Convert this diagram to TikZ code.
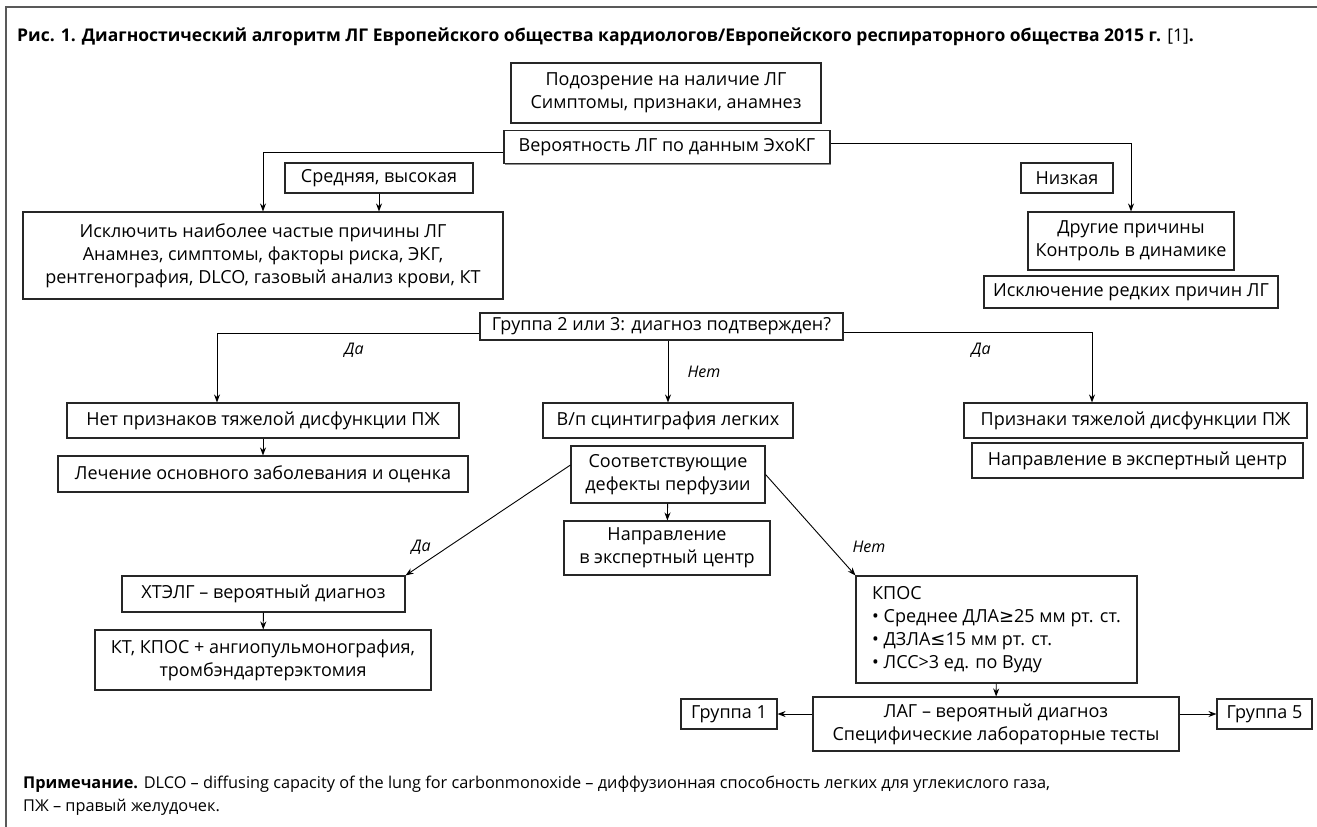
\documentclass[tikz,border=0pt]{standalone}
\usepackage{fontspec}
\setmainfont{Open Sans}
\newfontfamily\symf{DejaVu Sans}
\usetikzlibrary{arrows.meta,shadows}
\tikzset{
  blk/.style={draw=black!85, line width=1.1pt, fill=white, align=center, inner sep=0pt,
    font=\fontsize{18}{23}\selectfont,
    general shadow={fill=black!45, shadow xshift=1.3pt, shadow yshift=-1.3pt}},
  sz/.style 2 args={minimum width=#1pt, minimum height=#2pt},
  arr/.style={-{Stealth[length=8pt,width=6pt]}, line width=0.9pt},
  yn/.style={font=\fontsize{16}{18}\selectfont\itshape},
}
\begin{document}
\begin{tikzpicture}[x=1pt,y=-1pt]
\useasboundingbox (0,0) rectangle (1317,827);
\draw[black!65, line width=1.3pt] (6,827) -- (6,7) -- (1317,7);
\node[anchor=base west, inner sep=0pt, font=\fontsize{17.5}{20}\selectfont\bfseries] (title) at (17,41) {Рис. 1. Диагностический алгоритм ЛГ Европейского общества кардиологов/Европейского респираторного общества 2015 г. {\mdseries[1]}.};
\node[blk,sz={310}{60}] (susp) at (666,93) {Подозрение на наличие ЛГ\\Симптомы, признаки, анамнез};
\node[blk,sz={326}{33}] (echo) at (667,147) {Вероятность ЛГ по данным ЭхоКГ};
\node[blk,sz={188}{30}] (midhi) at (379,178) {Средняя, высокая};
\node[blk,sz={92}{30}] (low) at (1067,178) {Низкая};
\node[blk,sz={480}{87}] (excl) at (263,255.5) {Исключить наиболее частые причины ЛГ\\Анамнез, симптомы, факторы риска, ЭКГ,\\рентгенография, DLCO, газовый анализ крови, КТ};
\node[blk,sz={206}{58}] (other) at (1131,241) {Другие причины\\Контроль в динамике};
\node[blk,sz={294}{32}] (rare) at (1131,292) {Исключение редких причин ЛГ};
\node[blk,sz={363}{27}] (grp) at (661.5,326.5) {Группа 2 или 3: диагноз подтвержден?};
\node[blk,sz={392}{35}] (nosev) at (263,420.5) {Нет признаков тяжелой дисфункции ПЖ};
\node[blk,sz={410}{36}] (treat) at (263,474) {Лечение основного заболевания и оценка};
\node[blk,sz={250}{35}] (scint) at (668,420.5) {В/п сцинтиграфия легких};
\node[blk,sz={194}{57}] (perf) at (668,474.5) {Соответствующие\\дефекты перфузии};
\node[blk,sz={206}{54}] (refm) at (667,548) {Направление\\в экспертный центр};
\node[blk,sz={343}{35}] (sev) at (1135.5,420.5) {Признаки тяжелой дисфункции ПЖ};
\node[blk,sz={331}{35}] (refr) at (1137.5,460.5) {Направление в экспертный центр};
\node[blk,sz={283}{36}] (cteph) at (263.5,594) {ХТЭЛГ – вероятный диагноз};
\node[blk,sz={336}{60}] (surg) at (263,660) {КТ, КПОС + ангиопульмонография,\\тромбэндартерэктомия};
\node[blk,sz={281}{107},align=left] (rhc) at (996.5,629.5) {КПОС\\• Среднее ДЛА{\symf ≥}25 мм рт. ст.\\• ДЗЛА{\symf ≤}15 мм рт. ст.\\• ЛСС>3 ед. по Вуду};
\node[blk,sz={366}{54}] (pah) at (996,724) {ЛАГ – вероятный диагноз\\Специфические лабораторные тесты};
\node[blk,sz={96}{30}] (g1) at (729,714) {Группа 1};
\node[blk,sz={95}{30}] (g5) at (1264.5,714) {Группа 5};
\draw[arr] ([yshift=-5pt]echo.west) -| (excl.north);
\draw[arr] ([yshift=4pt]echo.east) -| (other.north);
\draw[arr] (midhi) -- (excl.north -| midhi);
\draw[arr] ([yshift=-7pt]grp.west) -| ([xshift=-46pt]nosev.north);
\draw[arr] ([yshift=-6pt]grp.east) -| ([xshift=-43.5pt]sev.north);
\draw[arr] (grp.south -| scint) -- (scint.north);
\draw[arr] (nosev) -- (treat);
\draw[arr] (perf) -- (refm);
\draw[arr] ([yshift=9.5pt]perf.west) -- (cteph.north east);
\draw[arr] (perf.east) -- (rhc.north west);
\draw[arr] (cteph) -- (surg);
\draw[arr] (rhc) -- (pah);
\draw[arr] (pah.west |- g1) -- (g1);
\draw[arr] (pah.east |- g5) -- (g5);
\node[yn] (da1) at (354,350) {Да};
\node[yn] (da2) at (981,350) {Да};
\node[yn,anchor=west] (net1) at (684,372) {Нет};
\node[yn] (da3) at (421,547) {Да};
\node[yn] (net2) at (869,547) {Нет};
\node[anchor=base west, inner sep=0pt, font=\fontsize{16.3}{20}\selectfont] (note1) at (23,788) {\textbf{Примечание.} DLCO – diffusing capacity of the lung for carbonmonoxide – диффузионная способность легких для углекислого газа,};
\node[anchor=base west, inner sep=0pt, font=\fontsize{16.3}{20}\selectfont] (note2) at (23,811) {ПЖ – правый желудочек.};
\end{tikzpicture}
\end{document}
